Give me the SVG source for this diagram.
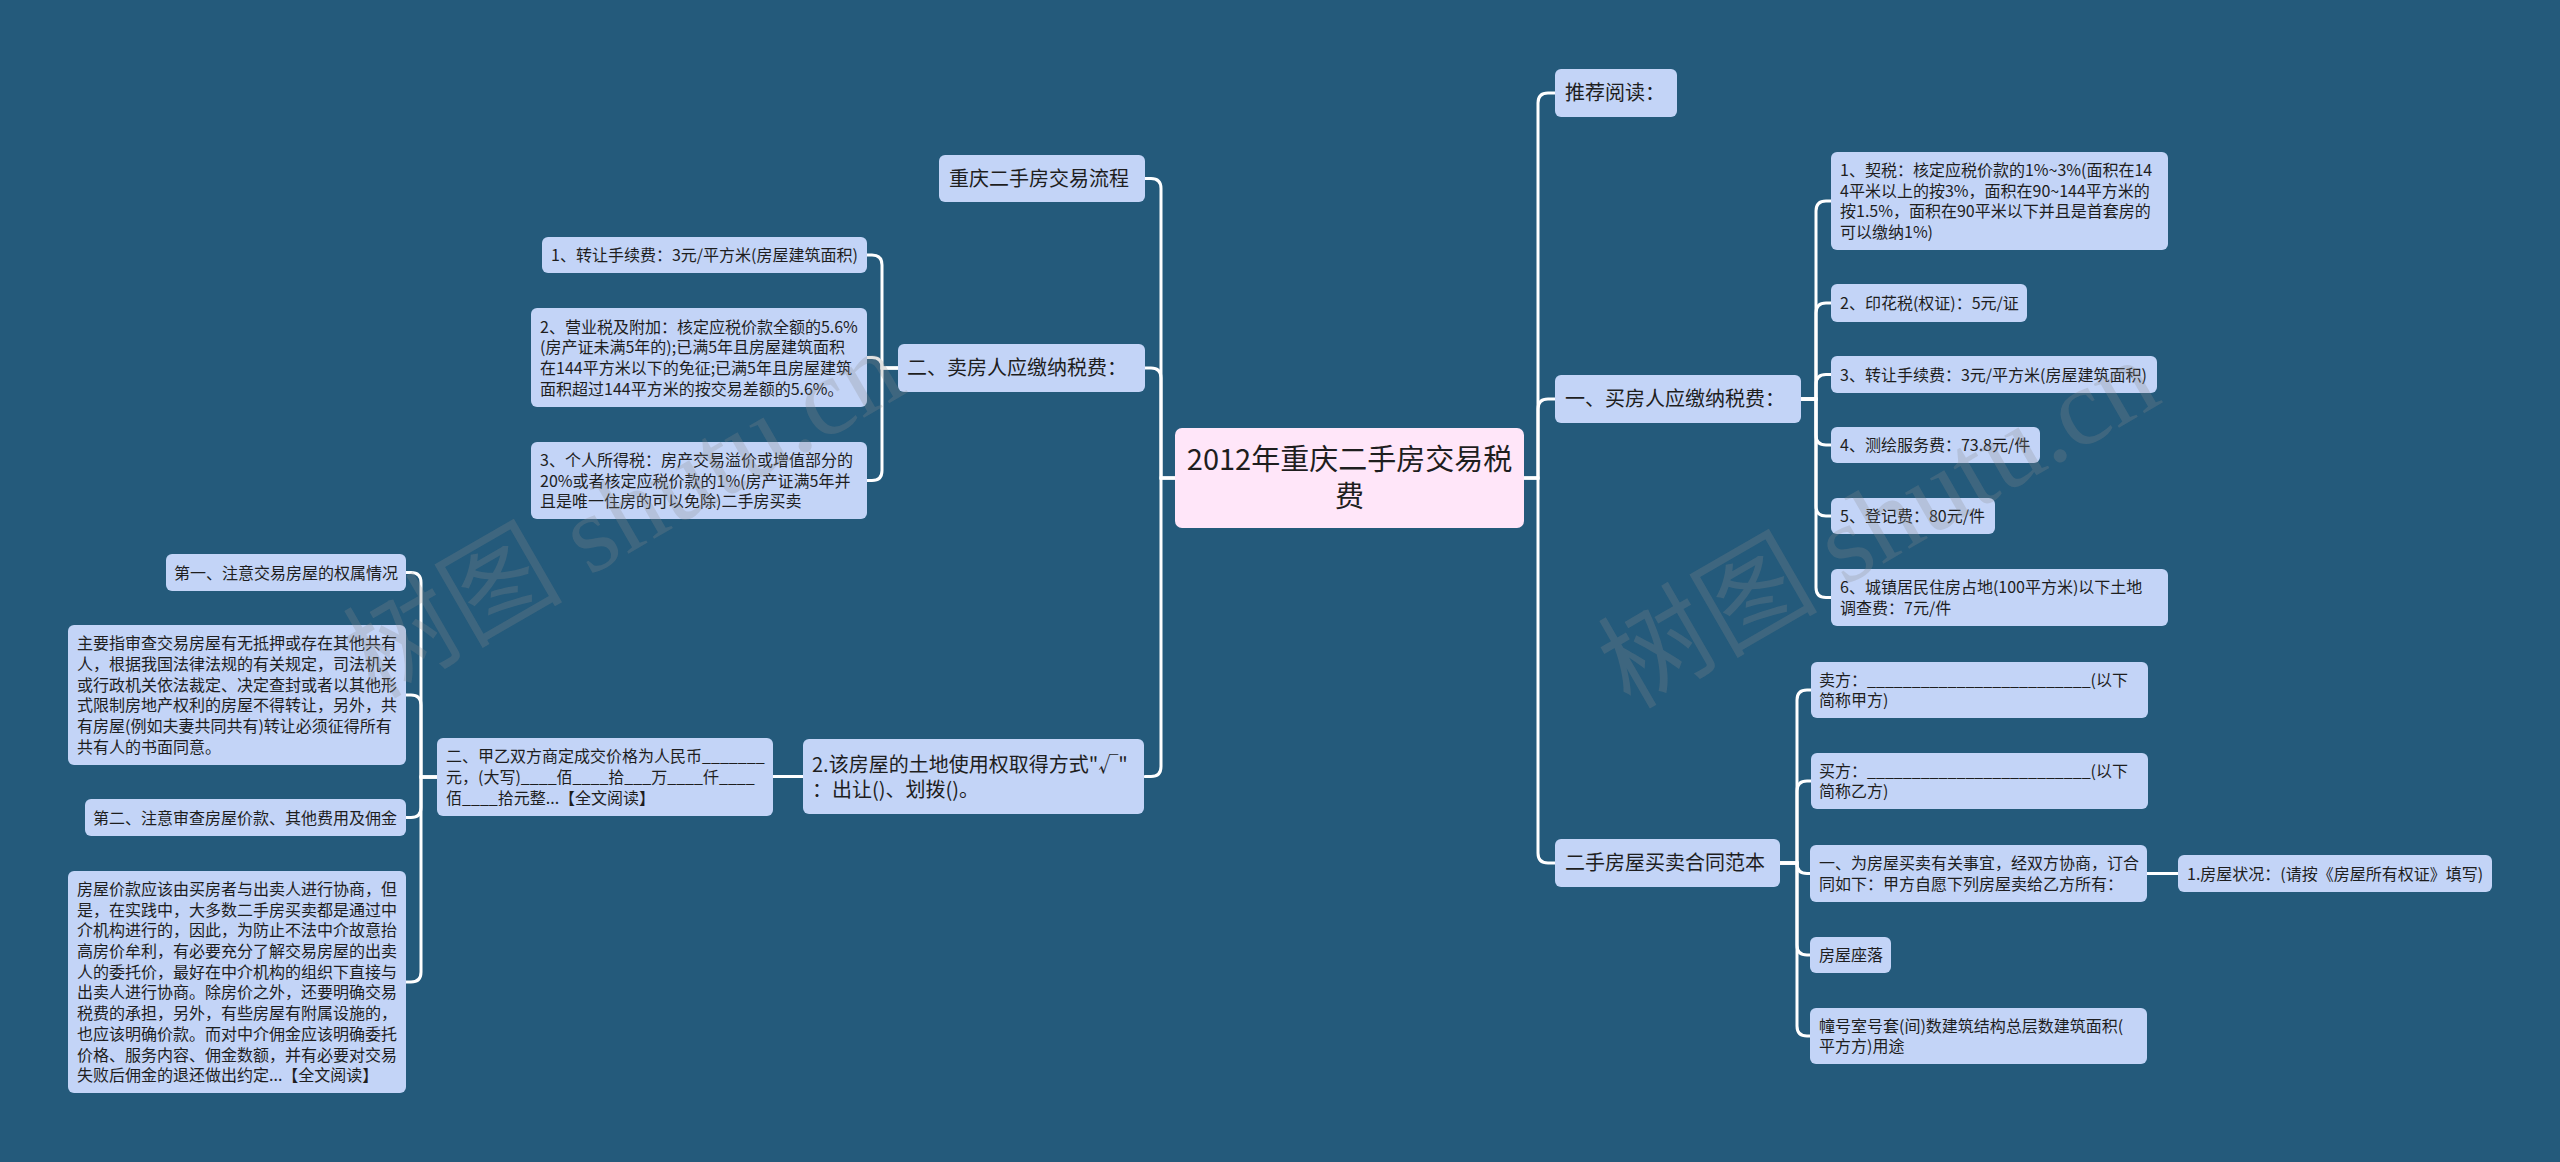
<svg xmlns="http://www.w3.org/2000/svg" width="2560" height="1162" viewBox="0 0 2560 1162">
<style>
.n rect{fill:#c3d4f7;}
.r rect{fill:#ffe6f9;}
text{font-family:"Noto Sans CJK SC","Noto Sans",sans-serif;fill:#1e1e1e;}
.s{font-size:16px;}
.m{font-size:20px;}
.big{font-size:29px;}
#connectors path{fill:none;stroke:#ffffff;stroke-width:3;stroke-linecap:round;}
.wm{font-family:"Liberation Serif","Noto Sans CJK SC",serif;font-size:110px;fill:#8c8c8c;fill-opacity:0.26;}
</style>
<rect width="2560" height="1162" fill="#245a7b"/>
<g id="connectors">
<path d="M1175,478 H1161 V188.5 Q1161,178.5 1151,178.5 H1145"/>
<path d="M1175,478 H1161 V378 Q1161,368 1151,368 H1145"/>
<path d="M1175,478 H1161 V766.5 Q1161,776.5 1151,776.5 H1145"/>
<path d="M1524,478 H1538 V103 Q1538,93 1548,93 H1555"/>
<path d="M1524,478 H1538 V409 Q1538,399 1548,399 H1555"/>
<path d="M1524,478 H1538 V853 Q1538,863 1548,863 H1555"/>
<path d="M898,368 H882 V265 Q882,255 872,255 H867"/>
<path d="M898,368 H882 V367.5 Q882,357.5 872,357.5 H867"/>
<path d="M898,368 H882 V470.5 Q882,480.5 872,480.5 H867"/>
<path d="M803,776.5 H773"/>
<path d="M437,777 H421 V582.5 Q421,572.5 411,572.5 H406"/>
<path d="M437,777 H421 V705 Q421,695 411,695 H406"/>
<path d="M437,777 H421 V807.5 Q421,817.5 411,817.5 H406"/>
<path d="M437,777 H421 V972 Q421,982 411,982 H406"/>
<path d="M1801,399 H1816 V211 Q1816,201 1826,201 H1831"/>
<path d="M1801,399 H1816 V313 Q1816,303 1826,303 H1831"/>
<path d="M1801,399 H1816 V384.5 Q1816,374.5 1826,374.5 H1831"/>
<path d="M1801,399 H1816 V435 Q1816,445 1826,445 H1831"/>
<path d="M1801,399 H1816 V506 Q1816,516 1826,516 H1831"/>
<path d="M1801,399 H1816 V587.5 Q1816,597.5 1826,597.5 H1831"/>
<path d="M1780,863 H1797 V700 Q1797,690 1807,690 H1811"/>
<path d="M1780,863 H1797 V791 Q1797,781 1807,781 H1811"/>
<path d="M1780,863 H1797 V863.5 Q1797,873.5 1807,873.5 H1810"/>
<path d="M1780,863 H1797 V945 Q1797,955 1807,955 H1810"/>
<path d="M1780,863 H1797 V1026 Q1797,1036 1807,1036 H1810"/>
<path d="M2147,873.5 H2178"/>
</g>
<g id="root" class="r"><rect x="1175" y="428" width="349" height="100" rx="7"/>
<text class="big" x="1349.5" y="470" text-anchor="middle">2012年重庆二手房交易税</text>
<text class="big" x="1349.5" y="507" text-anchor="middle">费</text></g>
<g id="n-liucheng" class="n"><rect x="939" y="155" width="206" height="47" rx="6"/><text class="m" x="949" y="185.5">重庆二手房交易流程</text></g>
<g id="n-seller" class="n"><rect x="898" y="344" width="247" height="48" rx="6"/><text class="m" x="907" y="375">二、卖房人应缴纳税费：</text></g>
<g id="n-land" class="n"><rect x="803" y="739" width="341" height="75" rx="6"/><text class="m" x="812" y="772">2.该房屋的土地使用权取得方式"√"</text><text class="m" x="812" y="797">：出让()、划拨()。</text></g>
<g id="n-s1" class="n"><rect x="542" y="237" width="325" height="36" rx="6"/><text class="s" x="551" y="261">1、转让手续费：3元/平方米(房屋建筑面积)</text></g>
<g id="n-s2" class="n"><rect x="531" y="308" width="336" height="99" rx="6"/>
<text class="s" x="540" y="332.5">2、营业税及附加：核定应税价款全额的5.6%</text>
<text class="s" x="540" y="353.2">(房产证未满5年的);已满5年且房屋建筑面积</text>
<text class="s" x="540" y="373.9">在144平方米以下的免征;已满5年且房屋建筑</text>
<text class="s" x="540" y="394.6">面积超过144平方米的按交易差额的5.6%。</text></g>
<g id="n-s3" class="n"><rect x="531" y="442" width="336" height="77" rx="6"/>
<text class="s" x="540" y="465.8">3、个人所得税：房产交易溢价或增值部分的</text>
<text class="s" x="540" y="486.5">20%或者核定应税价款的1%(房产证满5年并</text>
<text class="s" x="540" y="507.2">且是唯一住房的可以免除)二手房买卖</text></g>
<g id="n-price" class="n"><rect x="437" y="738" width="336" height="78" rx="6"/>
<text class="s" x="446" y="762.3">二、甲乙双方商定成交价格为人民币_______</text>
<text class="s" x="446" y="783">元，(大写)____佰____拾___万____仟____</text>
<text class="s" x="446" y="803.7">佰____拾元整...【全文阅读】</text></g>
<g id="n-first" class="n"><rect x="166" y="554" width="240" height="37" rx="6"/><text class="s" x="174" y="578.5">第一、注意交易房屋的权属情况</text></g>
<g id="n-first-d" class="n"><rect x="68" y="625" width="338" height="140" rx="6"/>
<text class="s" x="77" y="649.3">主要指审查交易房屋有无抵押或存在其他共有</text>
<text class="s" x="77" y="670">人，根据我国法律法规的有关规定，司法机关</text>
<text class="s" x="77" y="690.7">或行政机关依法裁定、决定查封或者以其他形</text>
<text class="s" x="77" y="711.4">式限制房地产权利的房屋不得转让，另外，共</text>
<text class="s" x="77" y="732.1">有房屋(例如夫妻共同共有)转让必须征得所有</text>
<text class="s" x="77" y="752.8">共有人的书面同意。</text></g>
<g id="n-second" class="n"><rect x="85" y="799" width="321" height="37" rx="6"/><text class="s" x="93" y="823.5">第二、注意审查房屋价款、其他费用及佣金</text></g>
<g id="n-second-d" class="n"><rect x="68" y="871" width="338" height="222" rx="6"/>
<text class="s" x="77" y="894.9">房屋价款应该由买房者与出卖人进行协商，但</text>
<text class="s" x="77" y="915.6">是，在实践中，大多数二手房买卖都是通过中</text>
<text class="s" x="77" y="936.3">介机构进行的，因此，为防止不法中介故意抬</text>
<text class="s" x="77" y="957">高房价牟利，有必要充分了解交易房屋的出卖</text>
<text class="s" x="77" y="977.7">人的委托价，最好在中介机构的组织下直接与</text>
<text class="s" x="77" y="998.4">出卖人进行协商。除房价之外，还要明确交易</text>
<text class="s" x="77" y="1019.1">税费的承担，另外，有些房屋有附属设施的，</text>
<text class="s" x="77" y="1039.8">也应该明确价款。而对中介佣金应该明确委托</text>
<text class="s" x="77" y="1060.5">价格、服务内容、佣金数额，并有必要对交易</text>
<text class="s" x="77" y="1081.2">失败后佣金的退还做出约定...【全文阅读】</text></g>
<g id="n-recommend" class="n"><rect x="1555" y="69" width="122" height="48" rx="6"/><text class="m" x="1565" y="100">推荐阅读：</text></g>
<g id="n-buyer" class="n"><rect x="1555" y="375" width="246" height="48" rx="6"/><text class="m" x="1565" y="406">一、买房人应缴纳税费：</text></g>
<g id="n-contract" class="n"><rect x="1555" y="839" width="225" height="48" rx="6"/><text class="m" x="1565" y="870">二手房屋买卖合同范本</text></g>
<g id="n-b1" class="n"><rect x="1831" y="152" width="337" height="98" rx="6"/>
<text class="s" x="1840" y="176">1、契税：核定应税价款的1%~3%(面积在14</text>
<text class="s" x="1840" y="196.7">4平米以上的按3%，面积在90~144平方米的</text>
<text class="s" x="1840" y="217.4">按1.5%，面积在90平米以下并且是首套房的</text>
<text class="s" x="1840" y="238.1">可以缴纳1%)</text></g>
<g id="n-b2" class="n"><rect x="1831" y="284" width="196" height="38" rx="6"/><text class="s" x="1840" y="309">2、印花税(权证)：5元/证</text></g>
<g id="n-b3" class="n"><rect x="1831" y="356" width="326" height="37" rx="6"/><text class="s" x="1840" y="380.5">3、转让手续费：3元/平方米(房屋建筑面积)</text></g>
<g id="n-b4" class="n"><rect x="1831" y="427" width="209" height="36" rx="6"/><text class="s" x="1840" y="451">4、测绘服务费：73.8元/件</text></g>
<g id="n-b5" class="n"><rect x="1831" y="498" width="164" height="36" rx="6"/><text class="s" x="1840" y="522">5、登记费：80元/件</text></g>
<g id="n-b6" class="n"><rect x="1831" y="569" width="337" height="57" rx="6"/>
<text class="s" x="1840" y="593.2">6、城镇居民住房占地(100平方米)以下土地</text>
<text class="s" x="1840" y="613.9">调查费：7元/件</text></g>
<g id="n-c1" class="n"><rect x="1811" y="662" width="337" height="56" rx="6"/>
<text class="s" x="1819" y="685.7">卖方：_________________________(以下</text>
<text class="s" x="1819" y="706.4">简称甲方)</text></g>
<g id="n-c2" class="n"><rect x="1811" y="753" width="337" height="56" rx="6"/>
<text class="s" x="1819" y="776.7">买方：_________________________(以下</text>
<text class="s" x="1819" y="797.4">简称乙方)</text></g>
<g id="n-c3" class="n"><rect x="1810" y="845" width="337" height="57" rx="6"/>
<text class="s" x="1819" y="869.2">一、为房屋买卖有关事宜，经双方协商，订合</text>
<text class="s" x="1819" y="889.9">同如下：甲方自愿下列房屋卖给乙方所有：</text></g>
<g id="n-c3a" class="n"><rect x="2178" y="855" width="314" height="37" rx="6"/><text class="s" x="2187" y="879.5">1.房屋状况：(请按《房屋所有权证》填写)</text></g>
<g id="n-c4" class="n"><rect x="1810" y="937" width="81" height="36" rx="6"/><text class="s" x="1819" y="961">房屋座落</text></g>
<g id="n-c5" class="n"><rect x="1810" y="1008" width="337" height="56" rx="6"/>
<text class="s" x="1819" y="1031.7">幢号室号套(间)数建筑结构总层数建筑面积(</text>
<text class="s" x="1819" y="1052.4">平方方)用途</text></g>
<g id="watermarks">
<text class="wm" x="375" y="700" transform="rotate(-30 375 700)">树图 shutu.cn</text>
<text class="wm" x="1630" y="710" transform="rotate(-30 1630 710)">树图 shutu.cn</text>
</g>
</svg>
